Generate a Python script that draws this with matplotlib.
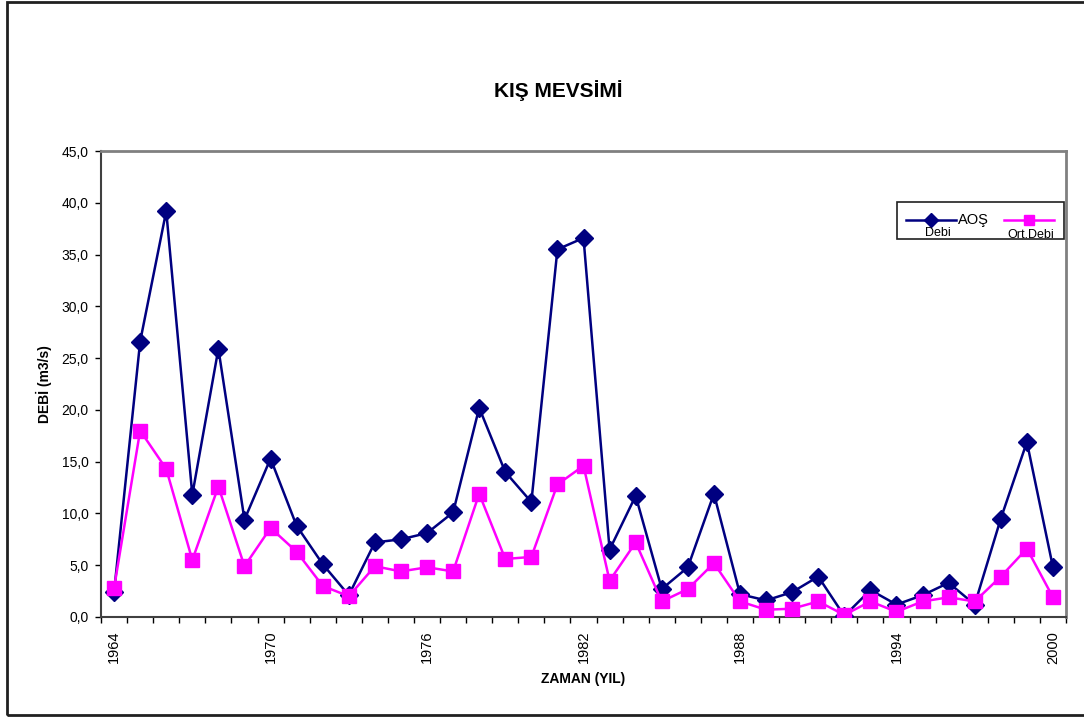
import numpy as np
import matplotlib
matplotlib.use("Agg")
import matplotlib.pyplot as plt
from matplotlib.patches import Rectangle
from matplotlib.lines import Line2D
from matplotlib.ticker import FuncFormatter, FixedLocator

plt.rcParams["font.family"] = ["Liberation Sans", "DejaVu Sans"]

years = list(range(1964, 2001))
aos_debi = [2.4, 26.6, 39.2, 11.8, 25.9, 9.4, 15.3, 8.8, 5.1, 2.1,
            7.2, 7.5, 8.1, 10.1, 20.2, 14.0, 11.1, 35.5, 36.6, 6.5,
            11.7, 2.7, 4.8, 11.9, 2.2, 1.6, 2.4, 3.9, 0.1, 2.6,
            1.2, 2.1, 3.3, 1.2, 9.5, 16.9, 4.8]
ort_debi = [2.8, 18.0, 14.3, 5.5, 12.6, 4.9, 8.6, 6.3, 3.0, 2.0,
            4.9, 4.4, 4.8, 4.4, 11.9, 5.6, 5.8, 12.8, 14.6, 3.5,
            7.2, 1.5, 2.7, 5.2, 1.5, 0.7, 0.8, 1.5, 0.2, 1.5,
            0.5, 1.5, 1.9, 1.5, 3.9, 6.6, 1.9]

navy = "#000080"
magenta = "#FF00FF"

fig = plt.figure(figsize=(10.84, 7.17), dpi=100)
ax = fig.add_axes([0.0932, 0.1395, 0.8902, 0.6499])

# outer chart frame
fig.patches.append(Rectangle((7 / 1084, 1 - 715 / 717), 1.0, 713 / 717,
                             transform=fig.transFigure, fill=False,
                             edgecolor="#202020", linewidth=2.0))

x = np.arange(len(years))
ax.plot(x, aos_debi, color=navy, linewidth=1.8, marker="D", markersize=9,
        markerfacecolor=navy, markeredgecolor=navy, zorder=3)
ax.plot(x, ort_debi, color=magenta, linewidth=1.8, marker="s", markersize=9.5,
        markerfacecolor=magenta, markeredgecolor=magenta, zorder=4)

ax.set_xlim(-0.5, len(years) - 0.5)
ax.set_ylim(0, 45)
ax.set_yticks(np.arange(0, 46, 5))
ax.yaxis.set_major_formatter(FuncFormatter(lambda v, p: f"{v:.1f}".replace(".", ",")))

ax.set_xticks(x[::6])
ax.set_xticklabels([str(y) for y in years[::6]], rotation=90)
ax.xaxis.set_minor_locator(FixedLocator(np.arange(-0.5, len(years), 1.0)))
ax.tick_params(axis="x", which="major", length=0, pad=10, labelsize=10.5)
ax.tick_params(axis="x", which="minor", length=4, width=1, direction="out")
ax.tick_params(axis="y", length=4, width=1, pad=5, labelsize=10)

for side in ("top", "right"):
    ax.spines[side].set_color("#808080")
    ax.spines[side].set_linewidth(2)
for side in ("left", "bottom"):
    ax.spines[side].set_color("#404040")
    ax.spines[side].set_linewidth(1.5)

ax.set_ylabel("DEBİ (m3/s)", fontsize=10, fontweight="bold", labelpad=7)
ax.set_xlabel("ZAMAN (YIL)", fontsize=10, fontweight="bold", labelpad=6)
fig.text(0.5148, 1 - 91 / 717, "KIŞ MEVSİMİ", fontsize=15, fontweight="bold",
         ha="center", va="center")

# legend drawn by hand to keep the wrapped series names
ax.add_patch(Rectangle((0.825, 0.811), 0.173, 0.080, transform=ax.transAxes,
                       facecolor="white", edgecolor="#202020", linewidth=1.2,
                       zorder=5, clip_on=False))
ax.add_line(Line2D([0.834, 0.886], [0.852, 0.852], transform=ax.transAxes,
                   color=navy, linewidth=1.8, zorder=6))
ax.add_line(Line2D([0.860], [0.852], transform=ax.transAxes, color=navy,
                   marker="D", markersize=7, zorder=6))
ax.text(0.888, 0.852, "AOŞ", transform=ax.transAxes, fontsize=10.5,
        ha="left", va="center", zorder=6)
ax.text(0.867, 0.823, "Debi", transform=ax.transAxes, fontsize=9,
        ha="center", va="center", zorder=6)
ax.add_line(Line2D([0.936, 0.988], [0.852, 0.852], transform=ax.transAxes,
                   color=magenta, linewidth=1.8, zorder=6))
ax.add_line(Line2D([0.962], [0.852], transform=ax.transAxes, color=magenta,
                   marker="s", markersize=7, zorder=6))
ax.text(0.963, 0.819, "Ort.Debi", transform=ax.transAxes, fontsize=9,
        ha="center", va="center", zorder=6)

fig.savefig("out.png", dpi=100)
